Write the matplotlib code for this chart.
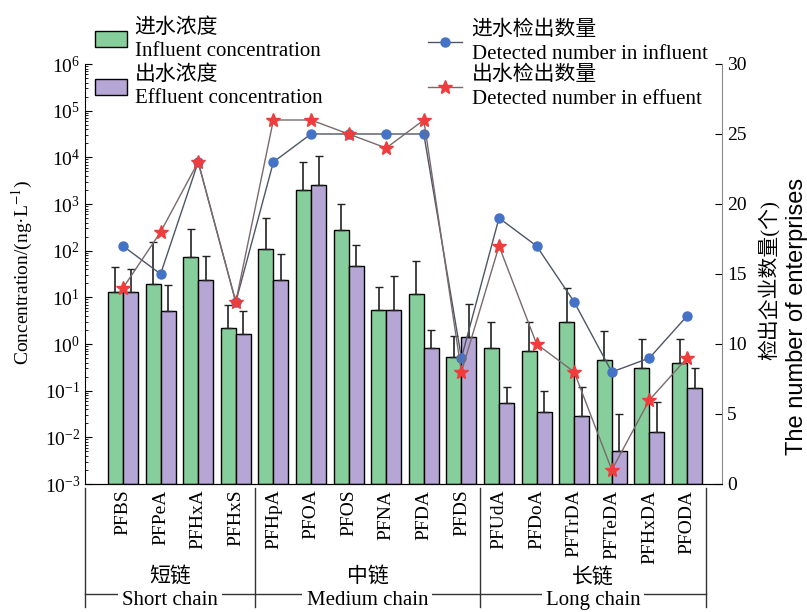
import numpy as np
import matplotlib
matplotlib.use("Agg")
import matplotlib.pyplot as plt

plt.rcParams['font.family'] = ['Liberation Serif', 'Noto Sans CJK SC']
plt.rcParams['mathtext.fontset'] = 'stix'
plt.rcParams['axes.unicode_minus'] = False

# compounds
cats = ['PFBS', 'PFPeA', 'PFHxA', 'PFHxS', 'PFHpA', 'PFOA', 'PFOS', 'PFNA',
        'PFDA', 'PFDS', 'PFUdA', 'PFDoA', 'PFTrDA', 'PFTeDA', 'PFHxDA', 'PFODA']

# concentrations (ng/L) and top of error bar
inf_conc = [13, 19.5, 74, 2.2, 108, 2000, 277, 5.4, 11.8, 0.52, 0.81, 0.72, 3.0, 0.45, 0.31, 0.40]
inf_upper = [45, 155, 287, 6.8, 490, 7800, 1000, 17, 60, 1.48, 2.9, 2.9, 15.6, 1.9, 1.28, 1.28]
eff_conc = [13, 5.2, 23, 1.6, 23, 2570, 46, 5.4, 0.81, 1.43, 0.054, 0.035, 0.029, 0.0052, 0.013, 0.115]
eff_upper = [40, 18, 78, 5.1, 83, 10700, 132, 28, 2.0, 7.1, 0.12, 0.10, 0.12, 0.032, 0.057, 0.31]

# detected number of enterprises
inf_num = [17, 15, 23, 13, 23, 25, 25, 25, 25, 9, 19, 17, 13, 8, 9, 12]
eff_num = [14, 18, 23, 13, 26, 26, 25, 24, 26, 8, 17, 10, 8, 1, 6, 9]

# chain groups: (cn, en, first index, last index)
groups = [('短链', 'Short chain', 0, 3),
          ('中链', 'Medium chain', 4, 9),
          ('长链', 'Long chain', 10, 15)]

green = '#86cf9c'
purple = '#b5a6d6'

fig = plt.figure(figsize=(8.07, 6.12), dpi=100)
ax = fig.add_axes([85/807, 1-484/612, 637/807, 420/612])

x = np.arange(len(cats))
w = 0.4
inf_conc = np.array(inf_conc); eff_conc = np.array(eff_conc)
inf_err = [np.zeros(len(cats)), np.array(inf_upper) - inf_conc]
eff_err = [np.zeros(len(cats)), np.array(eff_upper) - eff_conc]

b1 = ax.bar(x - w/2, inf_conc - 1e-3, w, bottom=1e-3, color=green, edgecolor='black', linewidth=1.0,
            yerr=inf_err, capsize=3, error_kw=dict(ecolor='#222222', elinewidth=1.2, capthick=1.0),
            label='进水浓度\nInfluent concentration')
b2 = ax.bar(x + w/2, eff_conc - 1e-3, w, bottom=1e-3, color=purple, edgecolor='black', linewidth=1.0,
            yerr=eff_err, capsize=3, error_kw=dict(ecolor='#222222', elinewidth=1.2, capthick=1.0),
            label='出水浓度\nEffluent concentration')

ax.set_yscale('log')
ax.set_ylim(1e-3, 1e6)
ax.set_xlim(-1.01, 15.93)
ax.set_xticks(x)
ax.set_xticklabels(cats, rotation=90, fontsize=14)
ax.tick_params(axis='x', length=0, pad=4)
ax.tick_params(axis='y', which='major', direction='in', length=5, labelsize=14)
ax.tick_params(axis='y', which='minor', direction='in', length=2.5)
ax.spines['top'].set_visible(False)
ax.spines['right'].set_visible(False)

ax2 = ax.twinx()
l1, = ax2.plot(x, inf_num, '-', color='#4d5566', lw=1.0, marker='o', ms=6.5,
               mfc='#4472c4', mec='#4472c4', label='进水检出数量\nDetected number in influent')
l2, = ax2.plot(x, eff_num, '-', color='#7a6a6a', lw=1.0, marker='*', ms=10,
               mfc='#f03c3c', mec='#f03c3c', label='出水检出数量\nDetected number in effuent')
ax2.set_ylim(0, 30)
ax2.set_yticks(range(0, 31, 5))
ax2.tick_params(axis='y', direction='in', length=5, labelsize=14)
ax2.spines['top'].set_visible(False)
ax2.spines['left'].set_visible(False)
ax2.spines['right'].set_color('#888888')

# group brackets under the axis
tr = ax.get_xaxis_transform()
edges = [-1.0, 3.5, 9.5, 15.5]
for xv in edges:
    ax.plot([xv, xv], [-0.01, -0.293], color='#333333', lw=1.0, transform=tr, clip_on=False)
ax.plot([edges[0], edges[-1]], [-0.262, -0.262], color='#333333', lw=1.0, transform=tr, clip_on=False)
for k, (cn, en, i0, i1) in enumerate(groups):
    xc = (edges[k] + edges[k+1]) / 2
    ax.text(xc, -0.222, cn, transform=tr, ha='center', va='center', fontsize=15)
    ax.text(xc, -0.277, en, transform=tr, ha='center', va='center', fontsize=15,
            bbox=dict(facecolor='white', edgecolor='none', pad=3))

# axis titles
fig.text(22/807, 1-272/612, 'Concentration/(ng·L$^{-1}$)', rotation=90,
         ha='center', va='center', fontsize=14)
fig.text(769/807, 1-280/612, '检出企业数量(个)', rotation=90, ha='center', va='center',
         fontsize=15)
fig.text(797/807, 1-316/612, 'The number of enterprises', rotation=90, ha='center',
         va='center', fontsize=17, family=['Liberation Sans', 'Noto Sans CJK SC'])

# legends
leg1 = fig.legend(handles=[b1, b2], loc='upper left', bbox_to_anchor=(95/807, 1-18/612),
                  frameon=False, fontsize=15, handlelength=1.55, handleheight=0.8,
                  handletextpad=0.35, labelspacing=0.22, borderpad=0, borderaxespad=0)
leg2 = fig.legend(handles=[l1, l2], loc='upper left', bbox_to_anchor=(428/807, 1-21/612),
                  frameon=False, fontsize=15, handlelength=1.65,
                  handletextpad=0.45, labelspacing=0.12, borderpad=0, borderaxespad=0)
for lg in (leg1, leg2):
    for t in lg.get_texts():
        t.set_linespacing(1.3)

fig.savefig('out.png', dpi=100)
